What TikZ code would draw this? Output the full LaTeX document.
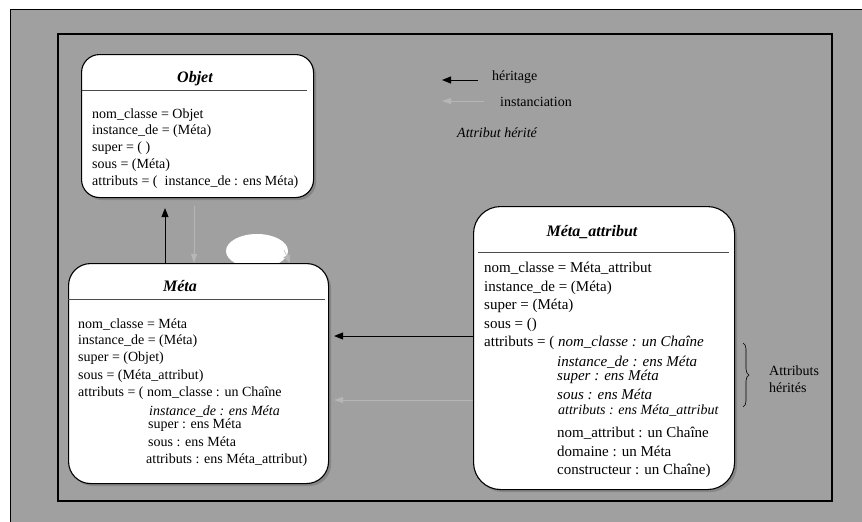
\documentclass[tikz,border=0pt]{standalone}
\usepackage{fontspec}
\setmainfont{Liberation Serif}
\usetikzlibrary{arrows.meta,shadows,decorations.pathreplacing}
\definecolor{panel}{HTML}{A0A0A0}
\definecolor{instgray}{HTML}{B6B6B6}
\definecolor{shade}{HTML}{868686}
\definecolor{rulegray}{HTML}{4A4A4A}

\begin{document}
\begin{tikzpicture}[x=1pt,y=-1pt,
  classbox/.style={draw=black, line width=1.1pt, fill=white, rounded corners=#1,
    inner sep=0pt, anchor=north west,
    drop shadow={shadow xshift=2.5pt, shadow yshift=-2.5pt, fill=shade, opacity=1}},
  classbox/.default=18pt,
  headrule/.style={draw=rulegray, line width=1pt},
  title/.style={anchor=base, inner sep=0pt, font=\fontsize{16}{18}\selectfont\bfseries\itshape},
  txt/.style={anchor=base west, inner sep=0pt, font=\fontsize{14}{16}\selectfont},
  txtl/.style={anchor=base west, inner sep=0pt, font=\fontsize{15}{17}\selectfont},
  inherit/.style={draw=black, line width=1pt, -{Triangle[length=9pt,width=7pt]}},
  instance/.style={draw=instgray, line width=1pt, -{Triangle[length=9pt,width=6pt]}}]

% page and frames
\useasboundingbox (0,0) rectangle (862,522);
\fill[white] (0,0) rectangle (862,522);
\fill[panel] (10,9) rectangle (862,522);
\draw[black, line width=1pt] (10,522) -- (10,9) -- (862,9);
\draw[black, line width=1.3pt] (58,34) rectangle (832,501);

% self loop on Meta: white blob with a grey tip
\coordinate (loopC) at (257,251);
\coordinate (loopA) at (284,250);
\coordinate (loopB) at (290,263);
\fill[white] (loopC) ellipse [x radius=31, y radius=17];
\draw[instgray, line width=0.5pt, -{Triangle[length=8pt,width=7pt]}] (loopA) -- (loopB);

% class boxes
\node[classbox=18pt, minimum width=232pt, minimum height=143pt] (objet) at (81,54) {};
\node[classbox=22pt, minimum width=260pt, minimum height=220pt] (meta) at (68,263) {};
\node[classbox=27pt, minimum width=261pt, minimum height=283pt] (metaattr) at (473,206) {};

% headers
\node[title] (objet-t) at (195,82) {Objet};
\draw[headrule] (82,90) -- (307,90);
\node[title] (meta-t) at (180,291) {Méta};
\draw[headrule] (68,299) -- (325,299);
\node[title] (metaattr-t) at (592,236) {Méta\_attribut};
\draw[headrule] (478,252) -- (729,252);

% Objet contents
\foreach \yy/\lbl [count=\i] in {118/nom\_classe = Objet,
    134.5/instance\_de = (Méta),
    151/super = ( ),
    168/sous = (Méta),
    185.5/attributs = ( \ instance\_de : ens Méta)}
  \node[txt] (objet-l\i) at (92,\yy) {\lbl};

% Meta contents
\foreach \yy/\lbl [count=\i] in {328/nom\_classe = Méta,
    344.5/instance\_de = (Méta),
    361/super = (Objet),
    379/sous = (Méta\_attribut),
    396/attributs = ( nom\_classe : un Chaîne}
  \node[txt] (meta-l\i) at (78,\yy) {\lbl};
\node[txt] (meta-a1) at (149,415) {\itshape instance\_de : ens Méta};
\node[txt] (meta-a2) at (148,428) {super : ens Méta};
\node[txt] (meta-a3) at (148,446) {sous : ens Méta};
\node[txt] (meta-a4) at (146,463) {attributs : ens Méta\_attribut)};

% Meta_attribut contents
\foreach \yy/\lbl [count=\i] in {272/nom\_classe = Méta\_attribut,
    291/instance\_de = (Méta),
    309/super = (Méta),
    328/sous = ()}
  \node[txtl] (metaattr-l\i) at (484,\yy) {\lbl};
\node[txtl] (metaattr-l5) at (484,346) {attributs = ( \textit{nom\_classe : un Chaîne}};
\node[txtl] (metaattr-a1) at (557,366.5) {\itshape instance\_de : ens Méta};
\node[txtl] (metaattr-a2) at (557,380) {\itshape super : ens Méta};
\node[txtl] (metaattr-a3) at (557,399) {\itshape sous : ens Méta};
\node[txt] (metaattr-a4) at (558,414) {\itshape attributs : ens Méta\_attribut};
\node[txtl] (metaattr-a5) at (557,437) {nom\_attribut : un Chaîne};
\node[txtl] (metaattr-a6) at (557,456) {domaine : un Méta};
\node[txtl] (metaattr-a7) at (557,474) {constructeur : un Chaîne)};

% inherited attributes brace
\draw[black, line width=0.6pt, decorate, decoration={brace, amplitude=6pt}]
  (743,343) -- (743,407);
\node[txt] (herites1) at (769,375) {Attributs};
\node[txt] (herites2) at (769,392) {hérités};

% connectors
\draw[inherit, shorten >=10pt] ([xshift=97pt]meta.north west) -- ([xshift=84pt]objet.south west);
\draw[instance, shorten <=8pt] ([xshift=113pt]objet.south west) -- ([xshift=126pt]meta.north west);
\draw[inherit, shorten >=5pt] ([yshift=-130pt]metaattr.north west) -- ([yshift=-73pt]meta.north east);
\draw[instance, shorten >=5pt] ([yshift=-194pt]metaattr.north west) -- ([yshift=-137pt]meta.north east);

% legend
\coordinate (legA1) at (478,80);
\coordinate (legA2) at (442,80);
\coordinate (legB1) at (484,101);
\coordinate (legB2) at (442,101);
\draw[inherit] (legA1) -- (legA2);
\draw[instance] (legB1) -- (legB2);
\node[txt] (leg-h) at (492,80) {héritage};
\node[txt] (leg-i) at (500,106) {instanciation};
\node[txt] (leg-a) at (457,137) {\itshape Attribut hérité};
\end{tikzpicture}
\end{document}
